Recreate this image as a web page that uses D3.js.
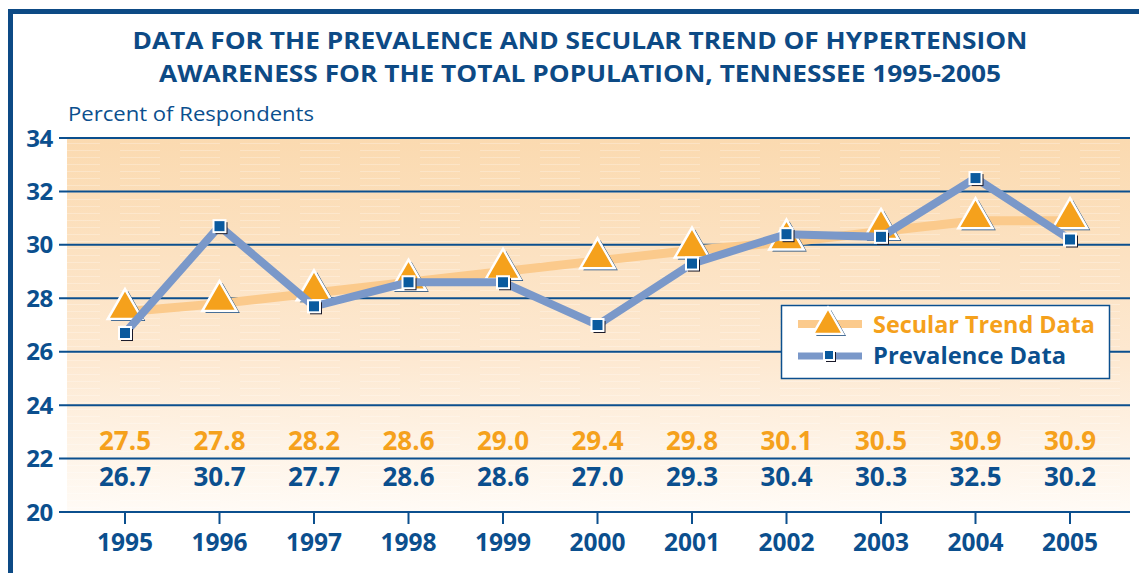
<!DOCTYPE html>
<html><head><meta charset="utf-8">
<script src="https://cdn.jsdelivr.net/npm/d3@7"></script>
<style>html,body{margin:0;padding:0;background:#fff;}svg{display:block;}</style>
</head><body>
<svg id="c" width="1139" height="573"></svg>
<script>
const years = ["1995","1996","1997","1998","1999","2000","2001","2002","2003","2004","2005"];
const trendValues = [27.5,27.8,28.2,28.6,29.0,29.4,29.8,30.1,30.5,30.9,30.9];
const prevalenceValues = [26.7,30.7,27.7,28.6,28.6,27.0,29.3,30.4,30.3,32.5,30.2];
const yTicks = [20,22,24,26,28,30,32,34];
const titleLines = ["DATA FOR THE PREVALENCE AND SECULAR TREND OF HYPERTENSION","AWARENESS FOR THE TOTAL POPULATION, TENNESSEE 1995-2005"];
const yAxisTitle = "Percent of Respondents";
const legendLabels = ["Secular Trend Data","Prevalence Data"];

const BLUE = "#0b4f8e", ORANGE = "#f5a11c", TRENDLINE = "#fbca8c", PREVLINE = "#7a98c9", SQ = "#0a5a9e", SHADOW = "#0b3f75";
const FONT = "'Open Sans', 'Noto Sans', sans-serif";

const svg = d3.select("#c");
const x = d3.scalePoint().domain(years).range([125, 1070]);
const y = d3.scaleLinear().domain([20, 34]).range([512, 138]);

const defs = svg.append("defs");
const g = defs.append("linearGradient").attr("id","bg").attr("x1",0).attr("y1",0).attr("x2",0).attr("y2",1);
g.append("stop").attr("offset","0%").attr("stop-color","#fbdab0");
g.append("stop").attr("offset","60%").attr("stop-color","#fde9d2");
g.append("stop").attr("offset","100%").attr("stop-color","#fffbf6");
const pat = defs.append("pattern").attr("id","stripes").attr("patternUnits","userSpaceOnUse").attr("width",60).attr("height",7);
pat.append("line").attr("x1",0).attr("x2",40).attr("y1",3.5).attr("y2",3.5).attr("stroke","#fff").attr("stroke-opacity",0.25).attr("stroke-width",1);

// frame
svg.append("rect").attr("x",8).attr("y",9).attr("width",5).attr("height",573-9).attr("fill","#0d4a85");
svg.append("rect").attr("x",8).attr("y",9).attr("width",1139-8).attr("height",5).attr("fill","#0d4a85");

// title
svg.append("g").selectAll("text").data(titleLines).join("text")
  .attr("x",580).attr("y",(d,i)=>49+i*33).attr("text-anchor","middle")
  .attr("font-family",FONT).attr("font-weight",700).attr("font-size",23).attr("fill","#0d4a85")
  .attr("textLength",(d,i)=>i===0?895:842).attr("lengthAdjust","spacingAndGlyphs")
  .text(d=>d);

svg.append("text").attr("x",68).attr("y",120.5).attr("font-family",FONT).attr("font-size",20.5)
  .attr("fill",BLUE).attr("textLength",246).attr("lengthAdjust","spacingAndGlyphs").text(yAxisTitle);

// background
svg.append("rect").attr("x",67).attr("y",y(34)+1).attr("width",1130-67).attr("height",y(20)-y(34)-1).attr("fill","url(#bg)");
svg.append("rect").attr("x",67).attr("y",y(34)+1).attr("width",1130-67).attr("height",y(20)-y(34)-1).attr("fill","url(#stripes)");

// grid lines
svg.append("g").selectAll("line").data(yTicks).join("line")
  .attr("x1",59).attr("x2",1130).attr("y1",d=>y(d)).attr("y2",d=>y(d))
  .attr("stroke",BLUE).attr("stroke-width",2);

// y labels
svg.append("g").selectAll("text").data(yTicks).join("text")
  .attr("x",53).attr("y",d=>y(d)+8.5).attr("text-anchor","end")
  .attr("font-family",FONT).attr("font-weight",700).attr("font-size",24).attr("fill",BLUE)
  .attr("letter-spacing",-0.3).text(d=>d);

// x ticks
svg.append("g").selectAll("line").data(years).join("line")
  .attr("x1",d=>x(d)).attr("x2",d=>x(d)).attr("y1",y(20)).attr("y2",y(20)+12)
  .attr("stroke",BLUE).attr("stroke-width",2);
svg.append("g").selectAll("text").data(years).join("text")
  .attr("x",d=>x(d)).attr("y",551).attr("text-anchor","middle")
  .attr("font-family",FONT).attr("font-weight",700).attr("font-size",24.5).attr("fill",BLUE)
  .text(d=>d);

// value labels
svg.append("g").selectAll("text").data(trendValues).join("text")
  .attr("x",(d,i)=>x(years[i])).attr("y",450).attr("text-anchor","middle")
  .attr("font-family",FONT).attr("font-weight",700).attr("font-size",26).attr("fill",ORANGE)
  .text(d=>d.toFixed(1));
svg.append("g").selectAll("text").data(prevalenceValues).join("text")
  .attr("x",(d,i)=>x(years[i])).attr("y",486).attr("text-anchor","middle")
  .attr("font-family",FONT).attr("font-weight",700).attr("font-size",26).attr("fill",BLUE)
  .text(d=>d.toFixed(1));

// lines
const line = d3.line().x((d,i)=>x(years[i])).y(d=>y(d));
svg.append("path").datum(trendValues).attr("d",line).attr("fill","none")
  .attr("stroke",TRENDLINE).attr("stroke-width",9).attr("stroke-linejoin","round");

function triPath(cx, cy, s){
  const w = s*1.15, h = s;
  return `M${cx},${cy-h*0.62} L${cx+w/2},${cy+h*0.38} L${cx-w/2},${cy+h*0.38} Z`;
}
function drawTri(sel, cx, cy, s){
  sel.append("path").attr("d",triPath(cx+3,cy+2,s)).attr("fill",SHADOW);
  sel.append("path").attr("d",triPath(cx,cy,s)).attr("fill",ORANGE).attr("stroke","#fff").attr("stroke-width",2.5).attr("stroke-linejoin","miter");
}
function drawSq(sel, cx, cy, s){
  sel.append("rect").attr("x",cx-s/2+2).attr("y",cy-s/2+2).attr("width",s).attr("height",s).attr("fill","#1a1a2a");
  sel.append("rect").attr("x",cx-s/2).attr("y",cy-s/2).attr("width",s).attr("height",s).attr("fill",SQ).attr("stroke","#fff").attr("stroke-width",2);
}

const triG = svg.append("g");
trendValues.forEach((v,i)=>drawTri(triG, x(years[i]), y(v)-4, 30));

svg.append("path").datum(prevalenceValues).attr("d",line).attr("fill","none")
  .attr("stroke",PREVLINE).attr("stroke-width",8).attr("stroke-linejoin","miter");
const sqG = svg.append("g");
prevalenceValues.forEach((v,i)=>drawSq(sqG, x(years[i]), y(v), 12));

// legend
const lg = svg.append("g");
lg.append("rect").attr("x",781.5).attr("y",305.5).attr("width",328).attr("height",73).attr("fill","#fff").attr("stroke",BLUE).attr("stroke-width",1.5);
lg.append("line").attr("x1",798).attr("x2",862).attr("y1",324).attr("y2",324).attr("stroke",TRENDLINE).attr("stroke-width",8);
drawTri(lg, 828, 324, 26);
lg.append("line").attr("x1",798).attr("x2",862).attr("y1",356).attr("y2",356).attr("stroke",PREVLINE).attr("stroke-width",7);
drawSq(lg, 829, 355, 10);
lg.append("text").attr("x",873).attr("y",333).attr("font-family",FONT).attr("font-weight",700).attr("font-size",23).attr("fill",ORANGE).attr("textLength",222).attr("lengthAdjust","spacingAndGlyphs").text(legendLabels[0]);
lg.append("text").attr("x",873).attr("y",364).attr("font-family",FONT).attr("font-weight",700).attr("font-size",23).attr("fill",BLUE).attr("textLength",193).attr("lengthAdjust","spacingAndGlyphs").text(legendLabels[1]);
</script>
</body></html>
